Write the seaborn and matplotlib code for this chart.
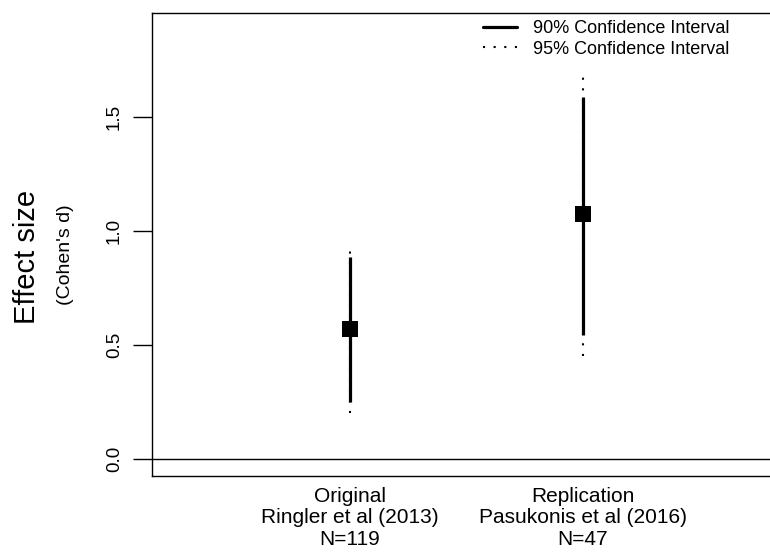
import numpy as np
import pandas as pd
import seaborn as sns
import matplotlib.pyplot as plt

# 데이터
studies = ["Original\nRingler et al (2013)\nN=119",
           "Replication\nPasukonis et al (2016)\nN=47"]
effect = [0.570, 1.075]
ci90_low = [0.250, 0.544]
ci90_high = [0.886, 1.588]
ci95_low = [0.202, 0.452]
ci95_high = [0.934, 1.680]
yticks = [0.0, 0.5, 1.0, 1.5]

df = pd.DataFrame({"x": [1, 2], "d": effect,
                   "lo90": ci90_low, "hi90": ci90_high,
                   "lo95": ci95_low, "hi95": ci95_high})

sns.set_style("ticks")
plt.rcParams["font.family"] = ["Liberation Sans", "DejaVu Sans"]
plt.rcParams["text.color"] = "black"
plt.rcParams["xtick.color"] = "black"
plt.rcParams["ytick.color"] = "black"

dot = (0, (1, 4.1))

fig = plt.figure(figsize=(7.7, 5.58), dpi=100)
ax = fig.add_axes([152 / 770, 82 / 558, 623 / 770, 463 / 558])

# 95% 구간 (점선) - 뒤에
ax.vlines(df["x"], df["lo95"], df["hi95"], colors="black", lw=1.5,
          linestyles=dot, zorder=2)
# 90% 구간 (실선)
ax.vlines(df["x"], df["lo90"], df["hi90"], colors="black", lw=2.3, zorder=3)
sns.scatterplot(data=df, x="x", y="d", marker="s", s=121, color="black",
                edgecolor="black", linewidth=0, ax=ax, zorder=4)

ax.axhline(0, color="black", lw=1, zorder=1)

ax.set_xlim(0.150, 2.824)
ax.set_ylim(-0.0746, 1.956)
ax.set_xticks(df["x"])
ax.set_xticklabels(studies, fontsize=15, linespacing=1.15)
ax.tick_params(axis="x", length=0, pad=8, labelcolor="black")
ax.set_yticks(yticks)
ax.set_yticklabels([f"{v:.1f}" for v in yticks], rotation=90, va="center",
                   fontsize=13.5)
ax.tick_params(axis="y", length=14, width=1, pad=7, color="black",
               labelcolor="black")
ax.set_xlabel("")
ax.set_ylabel("")
for sp in ax.spines.values():
    sp.set_color("black")
    sp.set_linewidth(1)

fig.text(27 / 770, 1 - 257 / 558, "Effect size", rotation=90, ha="center",
         va="center", fontsize=21, color="black")
fig.text(65 / 770, 1 - 255 / 558, "(Cohen's d)", rotation=90, ha="center",
         va="center", fontsize=14, color="black")

# 범례
ax.plot([], [], color="black", lw=2.3, label="90% Confidence Interval")
ax.plot([], [], color="black", lw=1.5, linestyle=dot,
        label="95% Confidence Interval")
leg = ax.legend(loc="upper left", bbox_to_anchor=(483 / 770, 1 - 20 / 558),
                bbox_transform=fig.transFigure, frameon=False, fontsize=13,
                handlelength=1.88, handletextpad=0.89, labelspacing=0.2,
                borderpad=0, borderaxespad=0)
for t in leg.get_texts():
    t.set_color("black")

fig.savefig("out.png", dpi=100)
